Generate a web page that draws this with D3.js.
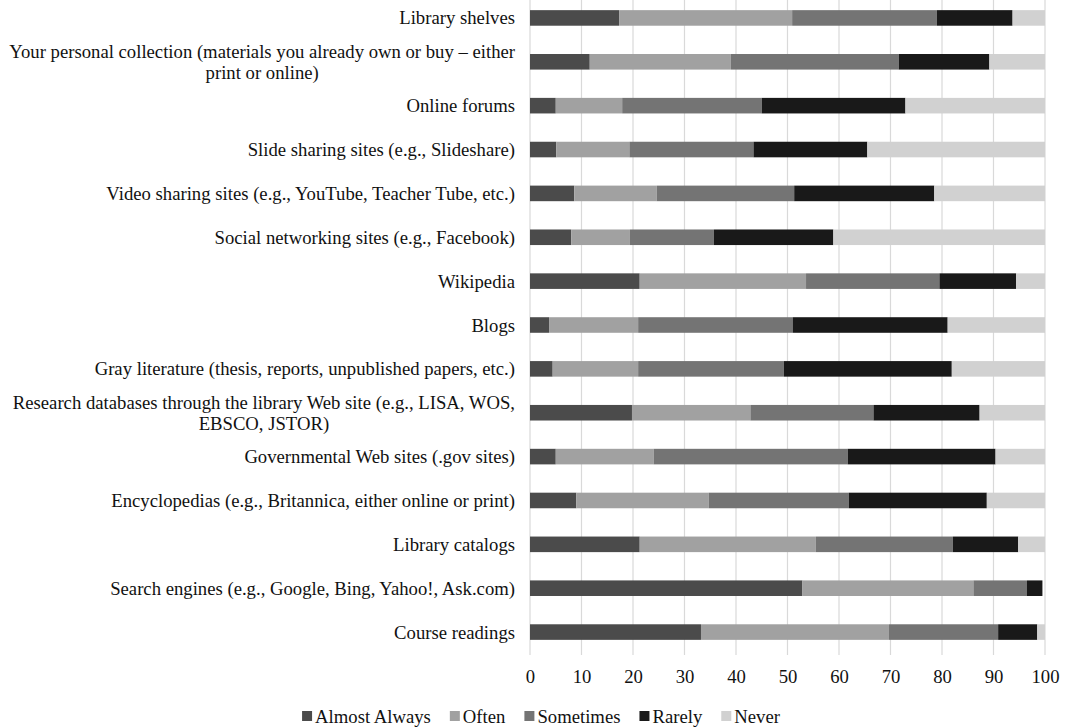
<!DOCTYPE html>
<html>
<head>
<meta charset="utf-8">
<script src="https://cdn.jsdelivr.net/npm/d3@7"></script>
<style>
  body { margin: 0; background: #fff; }
  text { font-family: "Liberation Serif", "Times New Roman", serif; fill: #111; }
</style>
</head>
<body>
<svg width="1067" height="727"></svg>
<script>
// categories top to bottom, label lines for the wrapped ones
const categories = [
    ["Library shelves"],
    ["Your personal collection (materials you already own or buy \u2013 either", "print or online)"],
    ["Online forums"],
    ["Slide sharing sites (e.g., Slideshare)"],
    ["Video sharing sites (e.g., YouTube, Teacher Tube, etc.)"],
    ["Social networking sites (e.g., Facebook)"],
    ["Wikipedia"],
    ["Blogs"],
    ["Gray literature (thesis, reports, unpublished papers, etc.)"],
    ["Research databases through the library Web site (e.g., LISA, WOS,", "EBSCO, JSTOR)"],
    ["Governmental Web sites (.gov sites)"],
    ["Encyclopedias (e.g., Britannica, either online or print)"],
    ["Library catalogs"],
    ["Search engines (e.g., Google, Bing, Yahoo!, Ask.com)"],
    ["Course readings"]
];

const seriesNames = ["Almost Always", "Often", "Sometimes", "Rarely", "Never"];
const seriesColors = ["#4b4b4b", "#a1a1a1", "#747474", "#191919", "#d1d1d1"];

const almostAlways = [17.3, 11.6, 5.0, 5.1, 8.6, 8.0, 21.3, 3.7, 4.4, 19.8, 5.0, 9.0, 21.3, 52.9, 33.2];
const often        = [33.6, 27.4, 12.9, 14.2, 16.0, 11.4, 32.3, 17.3, 16.6, 23.0, 19.0, 25.7, 34.2, 33.2, 36.5];
const sometimes    = [28.1, 32.6, 27.1, 24.1, 26.7, 16.3, 25.9, 30.0, 28.3, 23.9, 37.7, 27.2, 26.6, 10.4, 21.2];
const rarely       = [14.7, 17.6, 27.9, 22.1, 27.2, 23.2, 14.9, 30.1, 32.6, 20.6, 28.7, 26.8, 12.7, 3.0, 7.6];
const never        = [6.3, 10.8, 27.1, 34.5, 21.5, 41.1, 5.6, 18.9, 18.1, 12.7, 9.6, 11.3, 5.2, 0.0, 1.5];

const xTicks = [0, 10, 20, 30, 40, 50, 60, 70, 80, 90, 100];

const fontSize = 18.7;
const svg = d3.select("svg");
const plotLeft = 530, plotRight = 1045, plotTop = -4, plotBottom = 654;

const rows = categories.map((c, i) => ({
    key: i,
    lines: c,
    "Almost Always": almostAlways[i],
    "Often": often[i],
    "Sometimes": sometimes[i],
    "Rarely": rarely[i],
    "Never": never[i]
}));

const x = d3.scaleLinear().domain([0, 100]).range([plotLeft, plotRight]);
const y = d3.scaleBand().domain(rows.map(d => d.key)).range([plotTop, plotBottom]).paddingInner(0.645).paddingOuter(0.3225);
const color = d3.scaleOrdinal().domain(seriesNames).range(seriesColors);

// gridlines
svg.append("g")
    .selectAll("line")
    .data(xTicks)
    .join("line")
    .attr("x1", d => x(d)).attr("x2", d => x(d))
    .attr("y1", 0).attr("y2", 655)
    .attr("stroke", "#d9d9d9")
    .attr("stroke-width", 1.2);

// stacked bars
const stack = d3.stack().keys(seriesNames)(rows);
svg.append("g")
    .selectAll("g")
    .data(stack)
    .join("g")
    .attr("fill", d => color(d.key))
    .selectAll("rect")
    .data(d => d)
    .join("rect")
    .attr("x", d => x(d[0]))
    .attr("width", d => x(d[1]) - x(d[0]))
    .attr("y", d => y(d.data.key))
    .attr("height", y.bandwidth());

// x axis labels
const xAxis = svg.append("g")
    .attr("transform", `translate(0,657)`)
    .call(d3.axisBottom(x).tickValues(xTicks).tickSize(0).tickPadding(13));
xAxis.select(".domain").remove();
xAxis.selectAll("text")
    .style("font-family", '"Liberation Serif", "Times New Roman", serif')
    .style("font-size", fontSize + "px")
    .attr("fill", "#111");

// category labels (wrapped lines centered in a right-aligned block)
const labelRight = 515;
const lab = svg.append("g").selectAll("g")
    .data(rows)
    .join("g")
    .attr("transform", d => `translate(0,${y(d.key) + y.bandwidth() / 2})`);

lab.each(function(d) {
    const g = d3.select(this);
    const n = d.lines.length;
    const texts = g.selectAll("text")
        .data(d.lines)
        .join("text")
        .attr("font-size", fontSize)
        .attr("dy", "0.35em")
        .attr("y", (l, i) => (i - (n - 1) / 2) * 21.5)
        .text(l => l);
    const widths = [];
    texts.each(function() { widths.push(this.getComputedTextLength()); });
    const maxW = d3.max(widths);
    const cx = labelRight - maxW / 2;
    texts.attr("x", cx).attr("text-anchor", "middle");
});

// legend
const legend = svg.append("g").attr("transform", "translate(0,716)");
const items = legend.selectAll("g")
    .data(seriesNames)
    .join("g");
items.append("rect")
    .attr("width", 10).attr("height", 10)
    .attr("y", -5)
    .attr("fill", d => color(d));
items.append("text")
    .attr("x", 13)
    .attr("dy", "0.35em")
    .attr("font-size", fontSize)
    .text(d => d);
const gap = 19;
let pos = 0;
const offsets = [];
items.each(function() {
    offsets.push(pos);
    pos += 13 + d3.select(this).select("text").node().getComputedTextLength() + gap;
});
const total = pos - gap;
const startX = 541 - total / 2;
items.attr("transform", (d, i) => `translate(${startX + offsets[i]},0)`);
</script>
</body>
</html>
